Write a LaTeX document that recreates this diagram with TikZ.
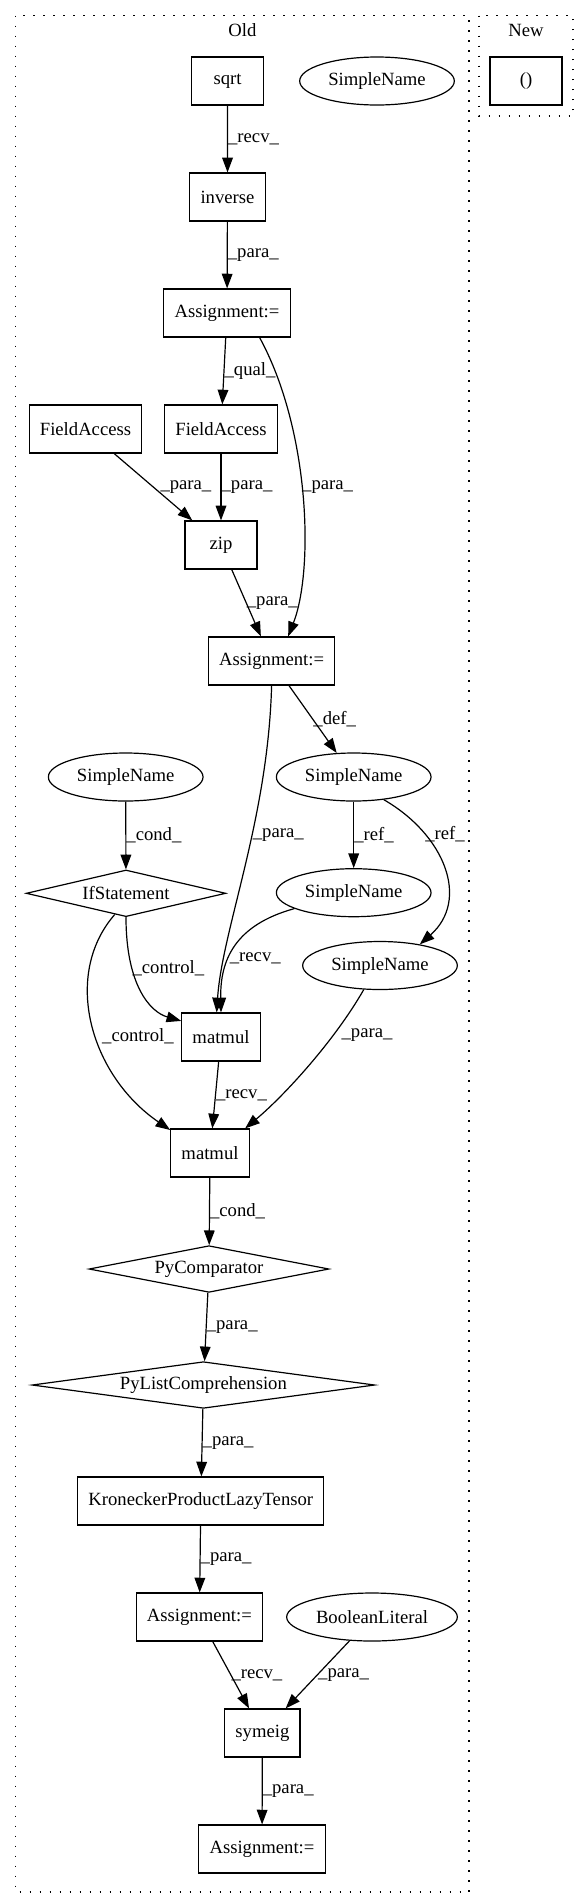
\documentclass[tikz,border=0pt]{standalone}
\usepackage{fontspec}
\setmainfont{Liberation Serif}
\usetikzlibrary{arrows.meta,shapes.geometric}

\begin{document}
\begin{tikzpicture}[->,>={Triangle[length=11pt,width=8pt]},x=0.75pt,y=-0.75pt,line width=0.9pt,
      every node/.style={font=\fontsize{14}{16}\selectfont},
      box/.style={draw,rectangle,minimum width=54pt,minimum height=36pt,inner xsep=8pt},
      oval/.style={draw,ellipse,minimum width=116pt,minimum height=36pt,inner sep=0pt},
      cond/.style={draw,diamond,shape aspect=6,minimum height=35pt,inner sep=0pt},
      lbl/.style={inner sep=0pt,anchor=west},
      cluster/.style={-,dash pattern=on 1pt off 6.5pt}]
			\useasboundingbox (0,0) rectangle (587,1900);
			% clusters
			\draw[cluster] (15.8,15.7) rectangle (469,1892);
			\draw[cluster] (479,15.7) rectangle (573,116);
			\node (old) at (242.4,30) {Old};
			\node (new) at (526,30) {New};
			\node[box] (unit) at (526,81) {()};
			% old graph
			\node[box] (sqrt) at (227.6,81) {sqrt};
			\node[oval] (sn0) at (377,81) {SimpleName};
			\node[box] (inv) at (227.5,197) {inverse};
			\node[box] (a1) at (227,313) {Assignment:=};
			\node[box] (fa1) at (85.5,429) {FieldAccess};
			\node[box] (fa2) at (221,429) {FieldAccess};
			\node[box] (zip) at (221,545) {zip};
			\node[box] (a2) at (271.6,661) {Assignment:=};
			\node[oval] (snc) at (125.7,777) {SimpleName};
			\node[oval] (snd) at (353.7,777) {SimpleName};
			\node[cond,minimum width=149.7pt] (ifs) at (126,893.3) {IfStatement};
			\node[oval] (snr) at (353.7,892.7) {SimpleName};
			\node[oval] (snp) at (380,965.5) {SimpleName};
			\node[box] (mm1) at (221,1037) {matmul};
			\node[box] (mm2) at (210,1153) {matmul};
			\node[cond,minimum width=180pt] (pyc) at (209,1269) {PyComparator};
			\node[cond,minimum width=257pt] (pyl) at (203.4,1385) {PyListComprehension};
			\node[box] (kron) at (200.8,1501) {KroneckerProductLazyTensor};
			\node[box] (a3) at (199.4,1617) {Assignment:=};
			\node[oval,minimum width=128pt] (bool) at (372,1617) {BooleanLiteral};
			\node[box] (sym) at (262.4,1733) {symeig};
			\node[box] (a4) at (262,1849) {Assignment:=};
			\path
				(sqrt) edge node[lbl] {\_recv\_} (inv)
				(inv) edge node[lbl] {\_para\_} (a1)
				(a1) edge node[lbl] {\_qual\_} (fa2)
				(fa1) edge node[lbl,xshift=5pt] {\_para\_} (zip)
				(fa2) edge node[lbl] {\_para\_} (zip)
				(zip) edge node[lbl] {\_para\_} (a2)
				(a2) edge node[lbl] {\_def\_} (snd)
				(snc) edge node[lbl] {\_cond\_} (ifs)
				(snd) edge node[lbl] {\_ref\_} (snr)
				(mm1) edge node[lbl] {\_recv\_} (mm2)
				(mm2) edge node[lbl] {\_cond\_} (pyc)
				(pyc) edge node[lbl] {\_para\_} (pyl)
				(pyl) edge node[lbl] {\_para\_} (kron)
				(kron) edge node[lbl] {\_para\_} (a3)
				(a3) edge node[lbl] {\_recv\_} (sym)
				(bool) edge node[lbl] {\_para\_} (sym)
				(sym) edge node[lbl] {\_para\_} (a4);
			% curved ones
			\draw (a1.-37) .. controls (310,430) and (314,570) .. (a2.56) node[lbl,pos=0.47] {\_para\_};
			\draw (a2.south) .. controls (268,820) and (222,930) .. (mm1.100) node[lbl,pos=0.4] {\_para\_};
			\draw (snd.-37) .. controls (445,835) and (470,900) .. (snp.28) node[lbl,pos=0.27] {\_ref\_};
			\draw (ifs.south) .. controls (126,985) and (150,1012) .. (mm1.158) node[lbl,pos=0.3] {\_control\_};
			\draw (ifs.-118) .. controls (62,975) and (90,1075) .. (mm2.150) node[lbl,pos=0.55,xshift=4pt] {\_control\_};
			\draw (snr.-165) .. controls (235,925) and (220,960) .. (mm1.north) node[lbl,pos=0.6] {\_recv\_};
			\draw (snp.-124) .. controls (335,1040) and (285,1095) .. (mm2.35) node[lbl,pos=0.3,xshift=6pt] {\_para\_};
		\end{tikzpicture}
\end{document}
